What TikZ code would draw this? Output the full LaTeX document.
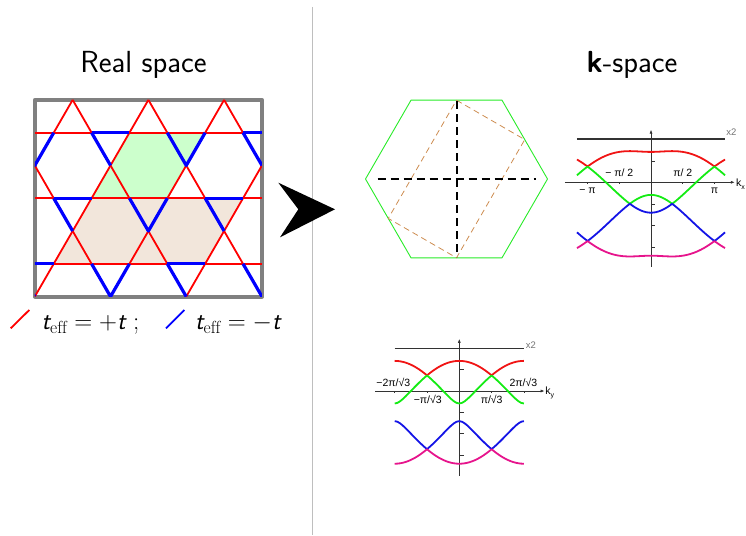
\documentclass[tikz,border=0pt]{standalone}
\usepackage{fontspec}
\newfontfamily\plotfont{Liberation Sans}
\usetikzlibrary{arrows.meta}
\definecolor{bondred}{RGB}{255,0,0}
\definecolor{bondblue}{RGB}{0,0,255}
\definecolor{cellgreen}{RGB}{204,255,204}
\definecolor{cellbrown}{RGB}{242,230,219}
\definecolor{framegray}{RGB}{128,128,128}
\definecolor{sepgray}{RGB}{190,190,190}
\definecolor{zonegreen}{RGB}{40,235,40}
\definecolor{foldbrown}{RGB}{205,140,80}
\definecolor{bandred}{RGB}{240,20,20}
\definecolor{bandgreen}{RGB}{20,235,20}
\definecolor{bandblue}{RGB}{20,20,230}
\definecolor{bandpink}{RGB}{230,20,140}
\definecolor{flatgray}{RGB}{50,50,50}
\newcommand{\tsym}{\textsf{\itshape t}}
\begin{document}
\begin{tikzpicture}[x=1pt,y=-1pt,line join=round,
  every node/.style={inner sep=0pt},
  declare function={ykx(\u)=2+cos(\u r)-(cos(\u r))^2; yky(\u)=1+cos(\u r);},
  pbond/.style={bondred,line width=1.8pt},
  nbond/.style={bondblue,line width=3.2pt},
  frame/.style={framegray,line width=4pt},
  title/.style={font=\sffamily\fontsize{30.5}{36}\selectfont},
  legtext/.style={font=\fontsize{25}{30}\selectfont,anchor=base west},
  band/.style={line width=1.8pt},
  flat/.style={flatgray,line width=1.8pt},
  axis/.style={black!80,line width=0.7pt},
  tick/.style={black!80,line width=0.6pt},
  plab/.style={font=\plotfont\fontsize{10.5}{12}\selectfont},
  mult/.style={font=\plotfont\fontsize{9.5}{11}\selectfont,text=black!55}]
\useasboundingbox (0,0) rectangle (746,535);
% titles
\node[title,anchor=base] (realtitle) at (143.5,72) {Real space};
\node[title,anchor=base] (ktitle) at (632,72) {\textbf{k}-space};
\draw[sepgray,line width=1.4pt] (312.7,7) -- (312.7,535);
% kagome lattice
\begin{scope}[shift={(34.8,99.9)},x=18.93pt,y=-32.78pt]
\fill[cellgreen] (5,1) -- (9,1) -- (7,3) -- (3,3) -- cycle;
\fill[cellbrown] (3,3) -- (11,3) -- (9,5) -- (1,5) -- cycle;
\draw[frame] (0,0) rectangle (12,6);
\clip (0,0) rectangle (12,6);
\foreach \r in {1,3,5}
  \draw[pbond] (0,\r) -- (12,\r);
\foreach \c in {-6,-2,...,10}
  \draw[pbond] (\c,0) -- (\c+6,6);
\foreach \c in {2,6,...,18}
  \draw[pbond] (\c,0) -- (\c-6,6);
\foreach \j in {0,1,2}
  \foreach \m in {-1,0,1} {
    \begin{scope}[shift={({-2*\j+8*\m},{2*\j})}]
      \draw[nbond] (3,1) -- (5,1);
      \draw[nbond] (3,1) -- (4,2);
      \draw[nbond] (7,1) -- (8,2) -- (9,1);
    \end{scope}
  }
\end{scope}
% legend
\draw[bondred,line width=1.8pt] (10.7,328.3) -- (29.3,310);
\node[legtext] (legpos) at (41.5,329.5) {$\tsym_{\mathrm{eff}} = +\tsym$ ;};
\draw[bondblue,line width=1.8pt] (166,328.3) -- (184.3,310);
\node[legtext] (legneg) at (195,329.5) {$\tsym_{\mathrm{eff}} = -\tsym$};
% arrow head
\fill (278.3,182.7) -- (335,209.3) -- (280,237.3) -- (298.3,209.3) -- cycle;
% Brillouin zone
\begin{scope}[shift={(456.5,179)}]
\draw[zonegreen,line width=0.9pt] (0:91) -- (60:91) -- (120:91) -- (180:91) -- (240:91) -- (300:91) -- cycle;
\draw[foldbrown,line width=0.8pt,dash pattern=on 6pt off 4pt] (0,-78.8) -- (68.25,-39.4) -- (0,78.8) -- (-68.25,39.4) -- cycle;
\draw[line width=2pt,dash pattern=on 8pt off 5pt] (-79,0) -- (79,0);
\draw[line width=2pt,dash pattern=on 8pt off 5pt] (0,-78) -- (0,78);
\end{scope}
% bands along kx
\begin{scope}[shift={(651,182.3)},x=20.2pt,y=21.5pt]
\draw[axis,-{Latex[length=4pt,width=3pt]}] (-4.26,0) -- (4.15,0);
\draw[axis,-{Latex[length=4pt,width=3pt]}] (0,-3.93) -- (0,2.45);
\foreach \t in {-pi,-pi/2,pi/2,pi}
  \draw[tick] ({\t},0) -- ({\t},-0.1);
\foreach \e in {1,-1,-2,-3}
  \draw[tick] (0,\e) -- (0.22,\e);
\draw[flat] ({-7*pi/6},2) -- ({7*pi/6},2);
\draw[band,bandred] plot[domain=-7*pi/6:7*pi/6,samples=57] (\x,{-1+sqrt(3+2*sqrt(abs(ykx(\x))))});
\draw[band,bandgreen] plot[domain=-7*pi/6:7*pi/6,samples=57] (\x,{-1+sqrt(abs(3-2*sqrt(abs(ykx(\x)))))});
\draw[band,bandblue] plot[domain=-7*pi/6:7*pi/6,samples=57] (\x,{-1-sqrt(abs(3-2*sqrt(abs(ykx(\x)))))});
\draw[band,bandpink] plot[domain=-7*pi/6:7*pi/6,samples=57] (\x,{-1-sqrt(3+2*sqrt(abs(ykx(\x))))});
\node[plab] (kxmpi) at ({-pi},-0.38) {− π};
\node[plab] (kxmhalf) at ({-pi/2},0.45) {− π/ 2};
\node[plab] (kxhalf) at ({pi/2},0.45) {π/ 2};
\node[plab] (kxpi) at ({pi},-0.38) {π};
\node[plab,anchor=west] (kxname) at (4.2,-0.1) {k\raisebox{-0.5ex}{\fontsize{7}{8}\selectfont x}};
\node[mult] (kxmult) at (3.98,2.33) {x2};
\end{scope}
% bands along ky
\begin{scope}[shift={(459.3,391)},x=10.28pt,y=21.3pt]
\draw[axis,-{Latex[length=4pt,width=3pt]}] (-8.2,0) -- (8.3,0);
\draw[axis,-{Latex[length=4pt,width=3pt]}] (0,-3.99) -- (0,2.45);
\foreach \t in {-2*pi,-pi,pi,2*pi}
  \draw[tick] ({\t},0) -- ({\t},-0.1);
\foreach \e in {1,-1,-2,-3}
  \draw[tick] (0,\e) -- (0.42,\e);
\draw[flat] ({-2*pi},2) -- ({2*pi},2);
\draw[band,bandred] plot[domain=-2*pi:2*pi,samples=49] (\x,{-1+sqrt(3+2*sqrt(abs(yky(\x))))});
\draw[band,bandgreen] plot[domain=-2*pi:2*pi,samples=49] (\x,{-1+sqrt(abs(3-2*sqrt(abs(yky(\x)))))});
\draw[band,bandblue] plot[domain=-2*pi:2*pi,samples=49] (\x,{-1-sqrt(abs(3-2*sqrt(abs(yky(\x)))))});
\draw[band,bandpink] plot[domain=-2*pi:2*pi,samples=49] (\x,{-1-sqrt(3+2*sqrt(abs(yky(\x))))});
\node[plab] (kymtwo) at (-6.42,0.39) {−2π/√3};
\node[plab] (kytwo) at (6.23,0.39) {2π/√3};
\node[plab] (kymone) at (-3.07,-0.38) {−π/√3};
\node[plab] (kyone) at (3.15,-0.38) {π/√3};
\node[plab,anchor=west] (kyname) at (8.35,-0.1) {k\raisebox{-0.5ex}{\fontsize{7}{8}\selectfont y}};
\node[mult] (kymult) at (6.97,2.13) {x2};
\end{scope}
\end{tikzpicture}
\end{document}
